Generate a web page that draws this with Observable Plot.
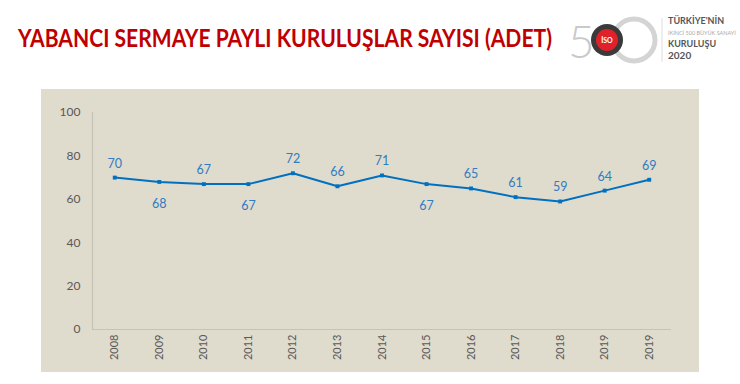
<!DOCTYPE html>
<html>
<head>
<meta charset="utf-8">
<script src="https://cdn.jsdelivr.net/npm/d3@7"></script>
<script src="https://cdn.jsdelivr.net/npm/@observablehq/plot@0.6"></script>
<style>
  html, body { margin: 0; padding: 0; background: #ffffff; }
  body { width: 740px; height: 384px; position: relative; overflow: hidden; font-family: Lato, "Open Sans", sans-serif; }
  #title { position: absolute; left: 18px; top: 22px; font-family: Lato, sans-serif; font-weight: 700; font-size: 25px; color: #c00000; white-space: nowrap; transform: scaleX(0.843); transform-origin: 0 0; }
  #logo { position: absolute; left: 566px; top: 10px; }
  #panel { position: absolute; left: 41px; top: 89px; width: 658px; height: 283px; background: #dfdbcd; }
  #chart { position: absolute; left: 0; top: 0; }
</style>
</head>
<body>
<div id="title">YABANCI SERMAYE PAYLI KURULUŞLAR SAYISI (ADET)</div>
<svg id="logo" width="170" height="60" viewBox="0 0 170 60">
  <text x="2" y="48" font-family="Lato, sans-serif" font-size="46" font-weight="300" fill="#c9c9c9">5</text>
  <circle cx="68" cy="30" r="21" fill="none" stroke="#d4d4d4" stroke-width="5"/>
  <circle cx="41" cy="30" r="16" fill="#3a3a3a"/>
  <circle cx="41" cy="30" r="11" fill="#e0202a"/>
  <text x="41" y="33" text-anchor="middle" font-family="Lato, sans-serif" font-size="7" font-weight="700" fill="#fff">İSO</text>
  <line x1="96" y1="8" x2="96" y2="52" stroke="#dddddd" stroke-width="1"/>
  <text x="102" y="14" font-family="Lato, sans-serif" font-size="9" font-weight="700" fill="#555">TÜRKİYE'NİN</text>
  <text x="102" y="25" font-family="Lato, sans-serif" font-size="5.5" fill="#aaa">İKİNCİ 500 BÜYÜK SANAYİ</text>
  <text x="102" y="37" font-family="Lato, sans-serif" font-size="9" font-weight="700" fill="#555">KURULUŞU</text>
  <text x="102" y="49" font-family="Lato, sans-serif" font-size="10" font-weight="700" fill="#555">2020</text>
</svg>
<div id="panel"><div id="chart"></div></div>
<script>
const years = ["2008","2009","2010","2011","2012","2013","2014","2015","2016","2017","2018","2019","2019"];
const values = [70,68,67,67,72,66,71,67,65,61,59,64,69];
const labelPlacement = ["above","below","above","below","above","above","above","below","above","above","above","above","above"];
const yTicks = [0,20,40,60,80,100];

const data = years.map((y, i) => ({i, year: y, value: values[i], place: labelPlacement[i]}));

const chart = Plot.plot({
  width: 658,
  height: 283,
  marginLeft: 51,
  marginRight: 28,
  marginTop: 23,
  marginBottom: 43,
  style: {background: "transparent", fontFamily: "Lato, 'Open Sans', sans-serif", fontSize: "12px", color: "#595959"},
  x: {type: "linear", domain: [-0.5, years.length - 0.5]},
  y: {domain: [0, 100]},
  marks: [
    Plot.ruleY([0], {stroke: "#c6c2b5", strokeWidth: 1.2}),
    Plot.ruleX([-0.5], {y1: 0, y2: 100, stroke: "#c6c2b5", strokeWidth: 1.2}),
    Plot.axisY({ticks: yTicks, tickSize: 0, tickPadding: 12, label: null, fill: "#595959", fontSize: 12}),
    Plot.axisX({ticks: d3.range(years.length), tickFormat: (d) => years[d], tickSize: 0, tickPadding: 5, tickRotate: -90, label: null, fill: "#595959", fontSize: 11}),
    Plot.line(data, {x: "i", y: "value", stroke: "#0070c0", strokeWidth: 2}),
    Plot.dot(data, {x: "i", y: "value", symbol: "square", r: 2.2, fill: "#0070c0"}),
    Plot.text(data.filter(d => d.place === "above"), {x: "i", y: "value", text: d => String(d.value), dy: -14, fill: "#2f7cc4", fontSize: 12.5}),
    Plot.text(data.filter(d => d.place === "below"), {x: "i", y: "value", text: d => String(d.value), dy: 22, fill: "#2f7cc4", fontSize: 12.5})
  ]
});
document.getElementById("chart").appendChild(chart);
</script>
</body>
</html>
